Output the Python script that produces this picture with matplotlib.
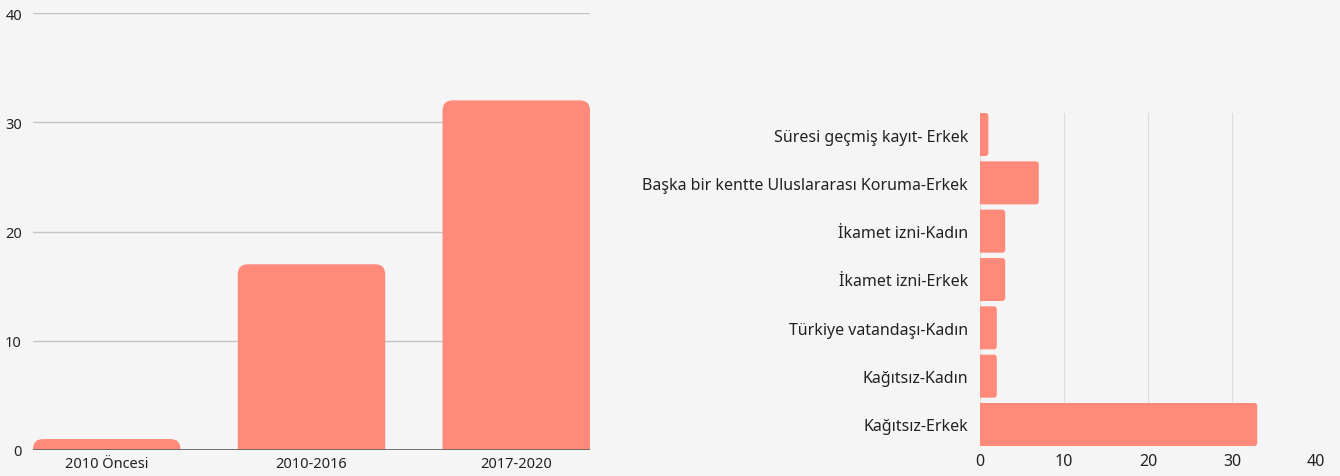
import numpy as np
import matplotlib.pyplot as plt
from matplotlib.path import Path
from matplotlib.patches import PathPatch

plt.rcParams['font.family'] = ['Noto Sans', 'DejaVu Sans']

periods = ['2010 Öncesi', '2010-2016', '2017-2020']
period_counts = [1, 17, 32]

statuses = ['Süresi geçmiş kayıt- Erkek',
            'Başka bir kentte Uluslararası Koruma-Erkek',
            'İkamet izni-Kadın',
            'İkamet izni-Erkek',
            'Türkiye vatandaşı-Kadın',
            'Kağıtsız-Kadın',
            'Kağıtsız-Erkek']
status_counts = [1, 7, 3, 3, 2, 2, 33]

BG = '#f5f5f5'
BAR = '#ff8a7a'
TXT = '#222222'


def px_per_unit(ax):
    t = ax.transData.transform
    p0 = t((0, 0))
    p1 = t((1, 1))
    return abs(p1[0] - p0[0]), abs(p1[1] - p0[1])


def round_top(ax, rect, r_px):
    # replace a vertical bar with a copy rounded at the top
    sx, sy = px_per_unit(ax)
    x0, y0 = rect.get_x(), rect.get_y()
    x1, y1 = x0 + rect.get_width(), y0 + rect.get_height()
    rx = min(r_px / sx, (x1 - x0) / 2)
    ry = min(r_px / sy, y1 - y0)
    verts = [(x0, y0), (x0, y1 - ry), (x0, y1), (x0 + rx, y1),
             (x1 - rx, y1), (x1, y1), (x1, y1 - ry), (x1, y0), (x0, y0)]
    codes = [Path.MOVETO, Path.LINETO, Path.CURVE3, Path.CURVE3,
             Path.LINETO, Path.CURVE3, Path.CURVE3, Path.LINETO, Path.CLOSEPOLY]
    rect.set_visible(False)
    ax.add_patch(PathPatch(Path(verts, codes), fc=rect.get_facecolor(),
                           ec='none', zorder=3))


def round_right(ax, rect, r_px):
    sx, sy = px_per_unit(ax)
    x0, y0 = rect.get_x(), rect.get_y()
    x1, y1 = x0 + rect.get_width(), y0 + rect.get_height()
    if y1 < y0:
        y0, y1 = y1, y0
    rx = min(r_px / sx, x1 - x0)
    ry = min(r_px / sy, (y1 - y0) / 2)
    verts = [(x0, y0), (x1 - rx, y0), (x1, y0), (x1, y0 + ry),
             (x1, y1 - ry), (x1, y1), (x1 - rx, y1), (x0, y1), (x0, y0)]
    codes = [Path.MOVETO, Path.LINETO, Path.CURVE3, Path.CURVE3,
             Path.LINETO, Path.CURVE3, Path.CURVE3, Path.LINETO, Path.CLOSEPOLY]
    rect.set_visible(False)
    ax.add_patch(PathPatch(Path(verts, codes), fc=rect.get_facecolor(),
                           ec='none', zorder=3))


fig = plt.figure(figsize=(13.4, 4.77), dpi=100, facecolor=BG)

# left: by period
ax1 = fig.add_axes([33 / 1340, 26 / 477, 557 / 1340, 437 / 477])
ax1.set_facecolor(BG)
x = np.arange(len(periods))
bars1 = ax1.bar(x, period_counts, width=0.72, color=BAR, zorder=3)
ax1.set_xlim(-0.36, len(periods) - 0.64)
ax1.set_ylim(0, 40)
ax1.set_yticks([0, 10, 20, 30, 40])
ax1.set_xticks(x)
ax1.set_xticklabels(periods)
for yv in [10, 20, 30, 40]:
    ax1.axhline(yv, color='#c4c4c4', lw=1, zorder=1)
ax1.axhline(0, color='#666666', lw=1.3, zorder=4)
for s in ax1.spines.values():
    s.set_visible(False)
ax1.tick_params(length=0, labelsize=10.5, colors=TXT)
ax1.tick_params(axis='y', pad=8)
ax1.tick_params(axis='x', pad=4)
for b in bars1:
    round_top(ax1, b, 10)

# right: by status
ax2 = fig.add_axes([980 / 1340, 30 / 477, 336 / 1340, 333 / 477])
ax2.set_facecolor(BG)
y = np.arange(len(statuses))
bars2 = ax2.barh(y, status_counts, height=0.89, color=BAR, zorder=3)
ax2.set_ylim(len(statuses) - 0.555, -0.445)
ax2.set_xlim(0, 40)
ax2.set_xticks([0, 10, 20, 30, 40])
ax2.set_yticks(y)
ax2.set_yticklabels(statuses)
ax2.grid(axis='x', color='#dcdcdc', lw=0.8, zorder=1)
ax2.set_axisbelow(True)
for s in ax2.spines.values():
    s.set_visible(False)
ax2.tick_params(length=0, colors=TXT)
ax2.tick_params(axis='y', labelsize=11.5, pad=8.5)
ax2.tick_params(axis='x', labelsize=11.5, pad=5)
for b in bars2:
    round_right(ax2, b, 3)

fig.savefig('out.png', dpi=100, facecolor=BG)
